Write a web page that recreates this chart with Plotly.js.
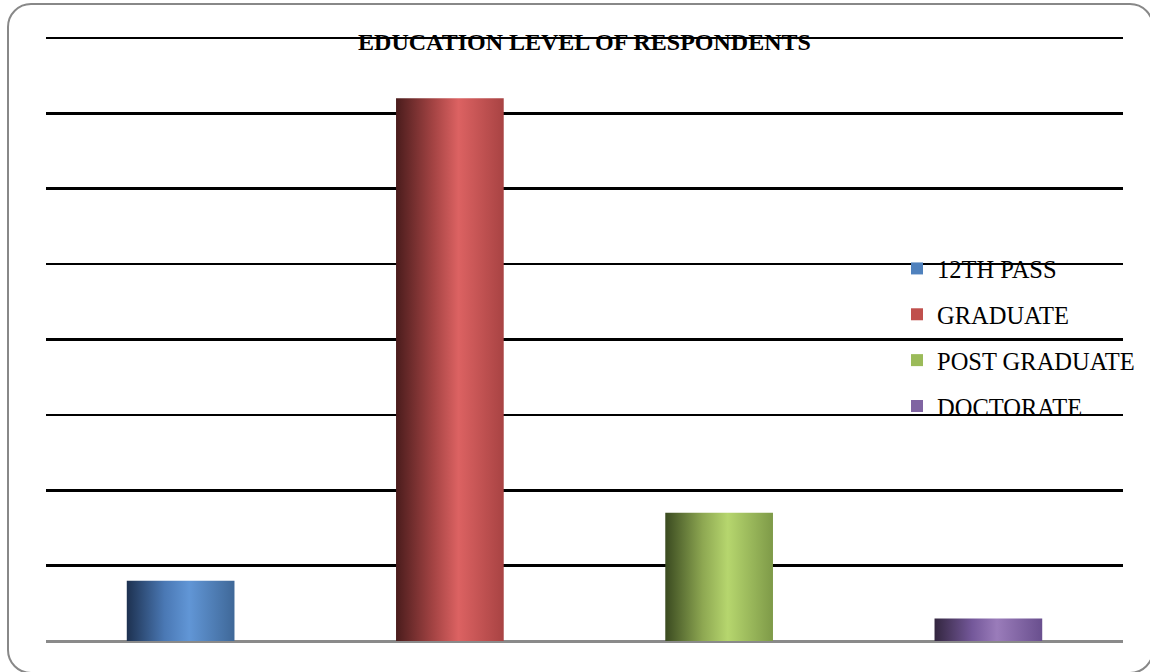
<!DOCTYPE html>
<html>
<head>
<meta charset="utf-8">
<script src="https://cdn.plot.ly/plotly-3.0.1.min.js"></script>
<style>
html,body{margin:0;padding:0;background:#fff;}
#wrap{position:relative;width:1150px;height:672px;overflow:hidden;background:#fff;}
#frame{position:absolute;left:7px;top:3px;width:1147px;height:671px;border:2px solid #888;border-radius:24px;box-sizing:border-box;pointer-events:none;z-index:2;}
#chart{position:absolute;left:0;top:0;width:1150px;height:672px;}
</style>
</head>
<body>
<div id="wrap">
<div id="chart"></div>
<div id="frame"></div>
</div>
<script>
const categories = ["12TH PASS", "GRADUATE", "POST GRADUATE", "DOCTORATE"];
const values = [8, 72, 17, 3];
const baseColors = ["#4f81bd", "#c0504d", "#9bbb59", "#8064a2"];
const gradStops = [
  ["#1d3150", "#4a78b4", "#6196d6", "#3f6898"],
  ["#4a1c1c", "#a54444", "#dc6262", "#a84343"],
  ["#3a4a20", "#8ea852", "#b6d66e", "#7e9a48"],
  ["#33263f", "#74589a", "#9a7cba", "#694f8e"]
];
const titleText = "EDUCATION LEVEL OF RESPONDENTS";

const traces = categories.map((c, i) => ({
  type: "bar",
  x: [c],
  y: [values[i]],
  name: c,
  legendgroup: "g" + i,
  width: 0.4,
  marker: {color: baseColors[i], line: {width: 0}},
  hoverinfo: "x+y"
}));

const layout = {
  width: 1150,
  height: 672,
  margin: {l: 46, r: 27, t: 34, b: 31, pad: 0, autoexpand: false},
  paper_bgcolor: "rgba(0,0,0,0)",
  plot_bgcolor: "rgba(0,0,0,0)",
  barmode: "overlay",
  showlegend: true,
  title: {
    text: "<b>" + titleText + "</b>",
    font: {family: "Liberation Serif", size: 24, color: "#000"},
    xref: "paper", x: 0.5, xanchor: "center",
    yref: "container", y: 1 - 42/672, yanchor: "middle"
  },
  xaxis: {
    type: "category",
    categoryorder: "array",
    categoryarray: categories,
    range: [-0.5, 3.5],
    showticklabels: false,
    showgrid: false,
    showline: false,
    ticks: "",
    zeroline: false,
    fixedrange: true
  },
  yaxis: {
    range: [0, 80.53],
    dtick: 10,
    tick0: 0,
    showticklabels: false,
    ticks: "",
    showgrid: true,
    gridcolor: "#000",
    gridwidth: 2.7,
    zeroline: true,
    zerolinecolor: "#8a8a8a",
    zerolinewidth: 3,
    showline: false,
    fixedrange: true
  },
  legend: {
    x: (897 - 46) / 1077,
    xanchor: "left",
    y: (641 - 246) / 607,
    yanchor: "top",
    bgcolor: "rgba(0,0,0,0)",
    borderwidth: 0,
    traceorder: "grouped",
    tracegroupgap: 11,
    font: {family: "Liberation Serif", size: 24.5, color: "#000"}
  }
};

Plotly.newPlot("chart", traces, layout, {displayModeBar: false, staticPlot: true}).then(function(gd){
  const svg = gd.querySelector("svg.main-svg");
  const ns = "http://www.w3.org/2000/svg";
  const defs = document.createElementNS(ns, "defs");
  gradStops.forEach((stops, i) => {
    const lg = document.createElementNS(ns, "linearGradient");
    lg.setAttribute("id", "barGrad" + i);
    lg.setAttribute("x1", "0"); lg.setAttribute("y1", "0");
    lg.setAttribute("x2", "1"); lg.setAttribute("y2", "0");
    const offs = [0, 0.35, 0.58, 1];
    stops.forEach((col, k) => {
      const s = document.createElementNS(ns, "stop");
      s.setAttribute("offset", offs[k]);
      s.setAttribute("stop-color", col);
      lg.appendChild(s);
    });
    defs.appendChild(lg);
  });
  svg.insertBefore(defs, svg.firstChild);
  const barTraces = gd.querySelectorAll(".barlayer .trace");
  barTraces.forEach((t, i) => {
    t.querySelectorAll("path").forEach(p => { p.style.fill = "url(#barGrad" + i + ")"; });
  });
});
</script>
</body>
</html>
